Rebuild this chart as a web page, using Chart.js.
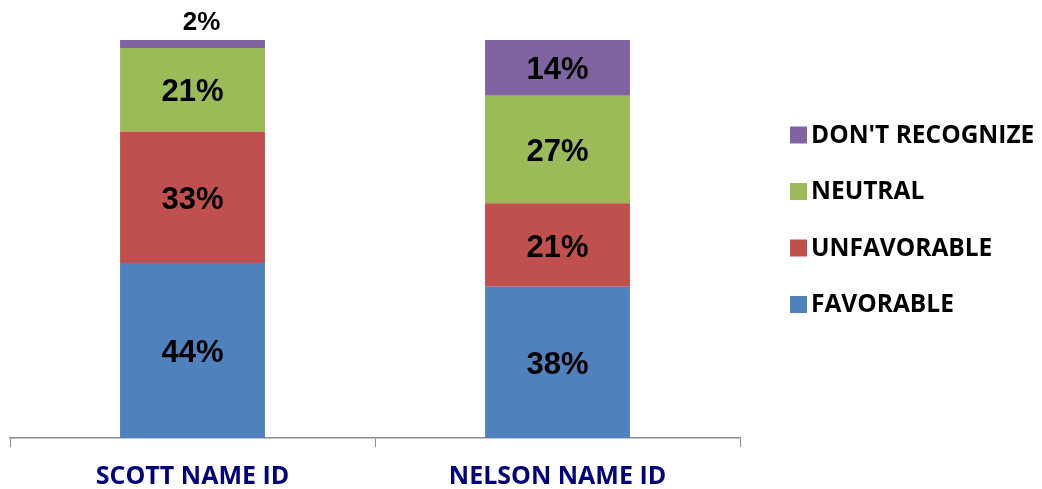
<!DOCTYPE html>
<html>
<head>
<meta charset="utf-8">
<script src="https://cdn.jsdelivr.net/npm/chart.js@4"></script>
<style>
    html, body { margin: 0; padding: 0; background: #fff; }
    #wrap { width: 1042px; height: 489px; }
</style>
</head>
<body>
<div id="wrap"><canvas id="myChart" width="1042" height="489"></canvas></div>
<script>
const categories = ['SCOTT NAME ID', 'NELSON NAME ID'];
const favorable = [44, 38];
const unfavorable = [33, 21];
const neutral = [21, 27];
const dontRecognize = [2, 14];

const colors = {
    favorable: '#4F81BD',
    unfavorable: '#C0504D',
    neutral: '#9BBB59',
    dontRecognize: '#8064A2'
};

const barLabelsPlugin = {
    id: 'barLabels',
    afterDatasetsDraw(chart) {
        const ctx = chart.ctx;
        ctx.save();
        ctx.fillStyle = '#000';
        ctx.textAlign = 'center';
        ctx.textBaseline = 'middle';
        chart.data.datasets.forEach((dataset, i) => {
            chart.getDatasetMeta(i).data.forEach((bar, j) => {
                const value = dataset.data[j];
                const text = value + '%';
                if (value < 5) {
                    // small slice: put the label above the bar
                    ctx.font = 'bold 26px "Liberation Sans", Arial, sans-serif';
                    ctx.fillText(text, bar.x + 9, bar.y - 17);
                } else {
                    ctx.font = 'bold 31px "Liberation Sans", Arial, sans-serif';
                    ctx.fillText(text, bar.x, (bar.y + bar.base) / 2 + 3);
                }
            });
        });
        ctx.restore();
    }
};

const sideLegendPlugin = {
    id: 'sideLegend',
    afterDraw(chart) {
        const ctx = chart.ctx;
        const items = chart.data.datasets.slice().reverse();
        ctx.save();
        ctx.font = 'bold 24.5px "Open Sans", sans-serif';
        ctx.textBaseline = 'middle';
        ctx.textAlign = 'left';
        items.forEach((dataset, i) => {
            const y = 135 + i * 56.5;
            ctx.fillStyle = dataset.backgroundColor;
            ctx.fillRect(790, y - 8.5, 17, 17);
            ctx.fillStyle = '#000';
            ctx.fillText(dataset.label, 811, y + 1);
        });
        ctx.restore();
    }
};

const data = {
    labels: categories,
    datasets: [
        {label: 'FAVORABLE', data: favorable, backgroundColor: colors.favorable},
        {label: 'UNFAVORABLE', data: unfavorable, backgroundColor: colors.unfavorable},
        {label: 'NEUTRAL', data: neutral, backgroundColor: colors.neutral},
        {label: "DON'T RECOGNIZE", data: dontRecognize, backgroundColor: colors.dontRecognize}
    ]
};

const options = {
    responsive: false,
    animation: false,
    layout: {
        padding: {top: 40, left: 10, right: 302, bottom: -18}
    },
    datasets: {
        bar: {
            categoryPercentage: 1,
            barPercentage: 0.397,
            borderWidth: 0
        }
    },
    scales: {
        x: {
            stacked: true,
            grid: {
                display: true,
                drawOnChartArea: false,
                drawTicks: true,
                tickLength: 9,
                color: '#8c8c8c',
                offset: true
            },
            border: {display: true, color: '#8c8c8c', width: 1.5},
            ticks: {
                color: '#00007F',
                padding: 17.5,
                font: {family: '"Open Sans", sans-serif', size: 25, weight: 'bold', lineHeight: 1}
            }
        },
        y: {
            stacked: true,
            display: false,
            min: 0,
            max: 100
        }
    },
    plugins: {
        legend: {display: false},
        tooltip: {enabled: false}
    }
};

new Chart(document.getElementById('myChart'), {
    type: 'bar',
    data: data,
    options: options,
    plugins: [barLabelsPlugin, sideLegendPlugin]
});
</script>
</body>
</html>
